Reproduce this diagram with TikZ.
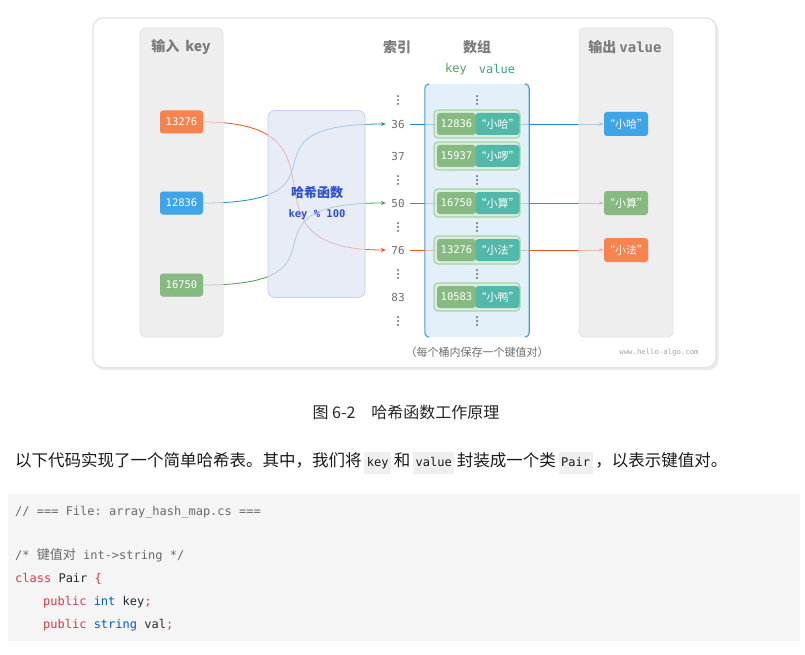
\documentclass[tikz,border=0pt]{standalone}
\usepackage{fontspec}
\setmainfont{Noto Sans CJK SC}
\setmonofont{DejaVu Sans Mono}
\newfontfamily\cjk{Noto Sans CJK SC}
\usetikzlibrary{arrows.meta,calc}
\definecolor{korange}{HTML}{F7834F}
\definecolor{kblue}{HTML}{40A4E8}
\definecolor{kgreen}{HTML}{86BA80}
\definecolor{kteal}{HTML}{52B9AA}
\definecolor{lorange}{HTML}{F4511E}
\definecolor{lblue}{HTML}{1E86D6}
\definecolor{lgreen}{HTML}{4E9A4E}
\definecolor{titlegray}{HTML}{7B7B7B}
\definecolor{idxgray}{HTML}{6E6E6E}
\definecolor{dotgray}{HTML}{808080}
\definecolor{hashblue}{HTML}{2E4FD0}
\definecolor{panelfill}{HTML}{E8E8E8}
\definecolor{paneledge}{HTML}{E0E0E0}
\definecolor{hashfill}{HTML}{DEE4F5}
\definecolor{hashedge}{HTML}{C4CEF2}
\definecolor{arrfill}{HTML}{D8EAF8}
\definecolor{arredge}{HTML}{4A98D8}
\definecolor{bucketedge}{HTML}{A8D4A2}
\definecolor{bucketfill}{HTML}{D4EBD0}
\definecolor{hdrgreen}{HTML}{5AA05A}
\definecolor{hdrteal}{HTML}{3E9E90}
\definecolor{codebg}{HTML}{F5F5F5}
\definecolor{inlinebg}{HTML}{EFEFEF}
\definecolor{ckw}{HTML}{D73A49}
\definecolor{ctype}{HTML}{005CC5}
\definecolor{ccom}{HTML}{6A6A6A}
\definecolor{ctext}{HTML}{24292E}
\definecolor{frameedge}{HTML}{E2E2E2}
\newcommand{\vdt}[2]{\foreach \dd in {-3.8,0,3.8}{\fill[dotgray] (#1,#2+\dd) circle (1.25pt);}}
\newcommand{\icode}[1]{{\setlength{\fboxsep}{2.5pt}\colorbox{inlinebg}{\rule[-5pt]{0pt}{17pt}\ttfamily\fontsize{12}{14}\selectfont #1}}}
\tikzset{
  panel/.style={draw=paneledge, fill=panelfill, fill opacity=0.7, line width=0.8pt, rounded corners=6pt, inner sep=0pt},
  ttl/.style={text=titlegray, font=\bfseries\fontsize{14}{16}\selectfont, inner sep=0pt},
  keybox/.style={rounded corners=3pt, minimum width=43pt, minimum height=23pt, inner sep=0pt, text=white, font=\ttfamily\fontsize{10.5}{12}\selectfont},
  outbox/.style={rounded corners=3pt, minimum width=44pt, minimum height=24pt, inner sep=0pt, text=white, font=\fontsize{11}{13}\selectfont},
  idx/.style={text=idxgray, font=\ttfamily\fontsize{11}{13}\selectfont, minimum width=24pt, inner sep=0pt},
  bucket/.style={draw=bucketedge, fill=bucketfill, fill opacity=0.55, line width=1.2pt, rounded corners=4pt, minimum width=86pt, minimum height=28pt, inner sep=0pt},
  cellk/.style={fill=kgreen, rounded corners=3pt, minimum width=39pt, minimum height=22pt, inner sep=0pt, text=white, font=\ttfamily\fontsize{10.5}{12}\selectfont},
  cellv/.style={fill=kteal, rounded corners=3pt, minimum width=39pt, minimum height=22pt, inner sep=0pt, text=white, font=\fontsize{11}{13}\selectfont},
  tip/.style={-{Stealth[length=5pt,width=4pt]}},
  lo/.style={tip, draw=lorange, line width=0.8pt},
  lb/.style={tip, draw=lblue, line width=0.8pt},
  lg/.style={tip, draw=lgreen, line width=0.8pt},
  codeline/.style={anchor=base west, inner sep=0pt, font=\ttfamily\fontsize{12}{14}\selectfont, text=ctext}
}
\begin{document}
\begin{tikzpicture}[x=1pt,y=-1pt]
\useasboundingbox (0,0) rectangle (805,655);
\fill[white] (0,0) rectangle (805,655);
% frame
\fill[black!8, rounded corners=10pt] (94.5,20.5) rectangle (718.5,370);
\draw[frameedge, fill=white, line width=1.2pt, rounded corners=10pt] (93,18) rectangle (716,367.5);

% key, index and output nodes
\node[keybox, fill=korange] (k1) at (181.5,122) {13276};
\node[keybox, fill=kblue] (k2) at (181.5,203) {12836};
\node[keybox, fill=kgreen] (k3) at (181.5,285) {16750};
\node[idx] (i36) at (398,124) {36};
\node[idx] (i37) at (398,156) {37};
\node[idx] (i50) at (398,203) {50};
\node[idx] (i76) at (398,250) {76};
\node[idx] (i83) at (398,297) {83};
\node[outbox, fill=kblue] (o1) at (626,124) {“小哈”};
\node[outbox, fill=kgreen] (o2) at (626,203) {“小算”};
\node[outbox, fill=korange] (o3) at (626,250) {“小法”};

% connectors
\draw[lo] (k1.east) .. controls +(160,0) and +(-160,0) .. (i76.west);
\draw[lb] (k2.east) .. controls +(160,0) and +(-160,0) .. (i36.west);
\draw[lg] (k3.east) .. controls +(160,0) and +(-160,0) .. (i50.west);
\draw[lb] (i36.east) -- (o1.west);
\draw[lg] (i50.east) -- (o2.west);
\draw[lo] (i76.east) -- (o3.west);

% panels over the lines
\node[panel, minimum width=83pt, minimum height=309pt] (inpanel) at (181.5,182.5) {};
\node[panel, minimum width=94pt, minimum height=309pt] (outpanel) at (626,182.5) {};
\node[draw=hashedge, fill=hashfill, fill opacity=0.7, line width=0.8pt, rounded corners=7pt, minimum width=97pt, minimum height=187pt, inner sep=0pt] (hash) at (316.5,204) {};
\node[fill=arrfill, fill opacity=0.7, rounded corners=4pt, minimum width=104pt, minimum height=253pt, inner sep=0pt] (arr) at (477,210.5) {};
\draw[arredge, line width=1.1pt] ([xshift=4.5pt]arr.north west) to[out=180,in=90] ([yshift=-4.5pt]arr.north west) -- ([yshift=4.5pt]arr.south west) to[out=-90,in=180] ([xshift=4.5pt]arr.south west);
\draw[arredge, line width=1.1pt] ([xshift=-4.5pt]arr.north east) to[out=0,in=90] ([yshift=-4.5pt]arr.north east) -- ([yshift=4.5pt]arr.south east) to[out=-90,in=0] ([xshift=-4.5pt]arr.south east);

% redraw boxes on top of panels
\node[keybox, fill=korange] at (k1) {13276};
\node[keybox, fill=kblue] at (k2) {12836};
\node[keybox, fill=kgreen] at (k3) {16750};
\node[outbox, fill=kblue] at (o1) {“小哈”};
\node[outbox, fill=kgreen] at (o2) {“小算”};
\node[outbox, fill=korange] at (o3) {“小法”};

% titles
\node[ttl] (t1) at (181,47) {输入\hspace{6pt}key};
\node[ttl] (t2) at (397,47) {索引};
\node[ttl] (t3) at (477,47) {数组};
\node[ttl] (t4) at (625,47) {输出\hspace{3pt}{\ttfamily value}};
\node[text=hdrgreen, font=\ttfamily\fontsize{12}{14}\selectfont, inner sep=0pt] (hk) at (456,69) {key};
\node[text=hdrteal, font=\ttfamily\fontsize{12}{14}\selectfont, inner sep=0pt] (hv) at (497,69) {value};

% hash text
\node[text=hashblue, font=\bfseries\fontsize{13}{15}\selectfont, inner sep=0pt] (hf) at (317,193) {哈希函数};
\node[text=hashblue, font=\ttfamily\bfseries\fontsize{10.5}{12}\selectfont, inner sep=0pt] (hm) at (317,215) {key \% 100};

% buckets
\foreach \y/\kk/\vv [count=\n] in {124/12836/小哈, 156/15937/小啰, 203/16750/小算, 250/13276/小法, 297/10583/小鸭}{
  \node[bucket] (b\n) at (477,\y) {};
  \node[cellk] (bk\n) at (456.5,\y) {\kk};
  \node[cellv] (bv\n) at (497.5,\y) {“\vv”};
}

% vertical dots
\vdt{398}{100}\vdt{398}{180}\vdt{398}{227}\vdt{398}{274}\vdt{398}{321}
\vdt{477}{100}\vdt{477}{180}\vdt{477}{227}\vdt{477}{274}\vdt{477}{321}

% note and watermark
\node[text=idxgray, font=\fontsize{11}{13}\selectfont, inner sep=0pt] (note) at (477,352) {（每个桶内保存一个键值对）};
\node[text=black!35, font=\ttfamily\fontsize{7.3}{9}\selectfont, inner sep=0pt] (wm) at (659,352) {www.hello-algo.com};

% caption
\node[text=black!85, font=\fontsize{16}{19}\selectfont, inner sep=0pt] (cap) at (406,412) {图 6-2\quad 哈希函数工作原理};

% paragraph
\node[anchor=west, text=black!90, font=\fontsize{16.5}{20}\selectfont, inner sep=0pt] (para) at (15,463) {以下代码实现了一个简单哈希表。其中，我们将\,\icode{key}\,和\,\icode{value}\,封装成一个类\,\icode{Pair}\,，以表示键值对。};

% code block
\node[fill=codebg, minimum width=792pt, minimum height=147pt, inner sep=0pt] (code) at (404,567.5) {};
\node[codeline, text=ccom] (c1) at (15,515.5) {// === File: array\_hash\_map.cs ===};
\node[codeline, text=ccom] (c2) at (15,559.5) {/* {\cjk\fontsize{13}{14}\selectfont 键值对} int->string */};
\node[codeline] (c3) at (15,582.5) {\textcolor{ckw}{class} Pair \textcolor{ckw}{\{}};
\node[codeline] (c4) at (43,605.5) {\textcolor{ckw}{public} \textcolor{ctype}{int} key\textcolor{ckw}{;}};
\node[codeline] (c5) at (43,628.5) {\textcolor{ckw}{public} \textcolor{ctype}{string} val\textcolor{ckw}{;}};
\end{tikzpicture}
\end{document}
